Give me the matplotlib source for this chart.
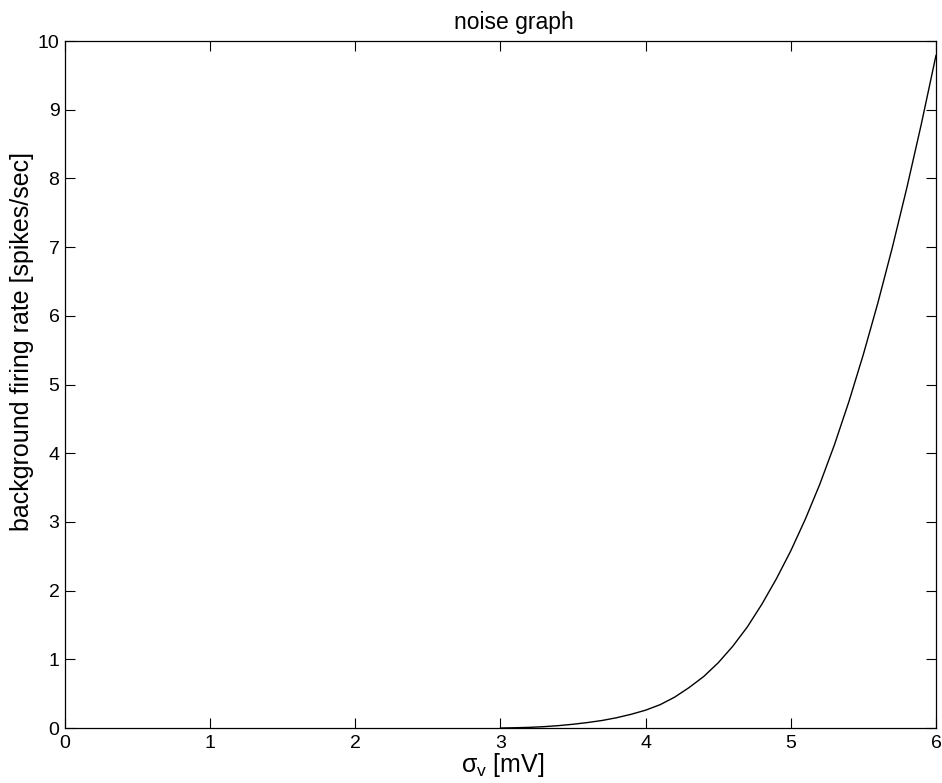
import matplotlib
matplotlib.use("Agg")
import matplotlib.pyplot as plt

# noise level sigma_v [mV] and background firing rate [spikes/sec]
sigma_v = [3.0, 3.1, 3.2, 3.3, 3.4, 3.5, 3.6, 3.7, 3.8, 3.9, 4.0, 4.1, 4.2, 4.3,
           4.4, 4.5, 4.6, 4.7, 4.8, 4.9, 5.0, 5.1, 5.2, 5.3, 5.4, 5.5, 5.6,
           5.7, 5.8, 5.9, 6.0]
rate = [0.0, 0.004, 0.01, 0.02, 0.035, 0.055, 0.08, 0.11, 0.15, 0.2, 0.26,
        0.34, 0.45, 0.59, 0.75, 0.95, 1.19, 1.47, 1.80, 2.17, 2.58, 3.04,
        3.55, 4.12, 4.75, 5.44, 6.19, 7.0, 7.87, 8.8, 9.79]

xticks = [0, 1, 2, 3, 4, 5, 6]
yticks = [0, 1, 2, 3, 4, 5, 6, 7, 8, 9, 10]

plt.rcParams["font.family"] = ["Liberation Sans", "DejaVu Sans"]
plt.rcParams["mathtext.fontset"] = "custom"
plt.rcParams["mathtext.rm"] = "Liberation Sans"
plt.rcParams["mathtext.it"] = "Liberation Sans"

fig = plt.figure(figsize=(9.42, 7.83), dpi=100)
ax = fig.add_axes([0.069, 0.0702, 0.9246, 0.8774])

ax.plot(sigma_v, rate, color="k", linewidth=1.0)

ax.set_xlim(0, 6)
ax.set_ylim(0, 10)
ax.set_xticks(xticks)
ax.set_yticks(yticks)
ax.tick_params(direction="in", length=7, width=0.8, top=True, right=True,
               labelsize=14)
ax.tick_params(axis="x", pad=5)
ax.tick_params(axis="y", pad=4)
for sp in ax.spines.values():
    sp.set_linewidth(0.9)

ax.set_title("noise graph", fontsize=16.5, pad=9, x=0.515)
ax.set_xlabel(r"$\sigma_\mathrm{v}$ [mV]", fontsize=18)
ax.xaxis.set_label_coords(0.503, -0.033)
ax.set_ylabel("background firing rate [spikes/sec]", fontsize=18)
ax.yaxis.set_label_coords(-0.036, 0.562)

fig.savefig("out.png", dpi=100)
